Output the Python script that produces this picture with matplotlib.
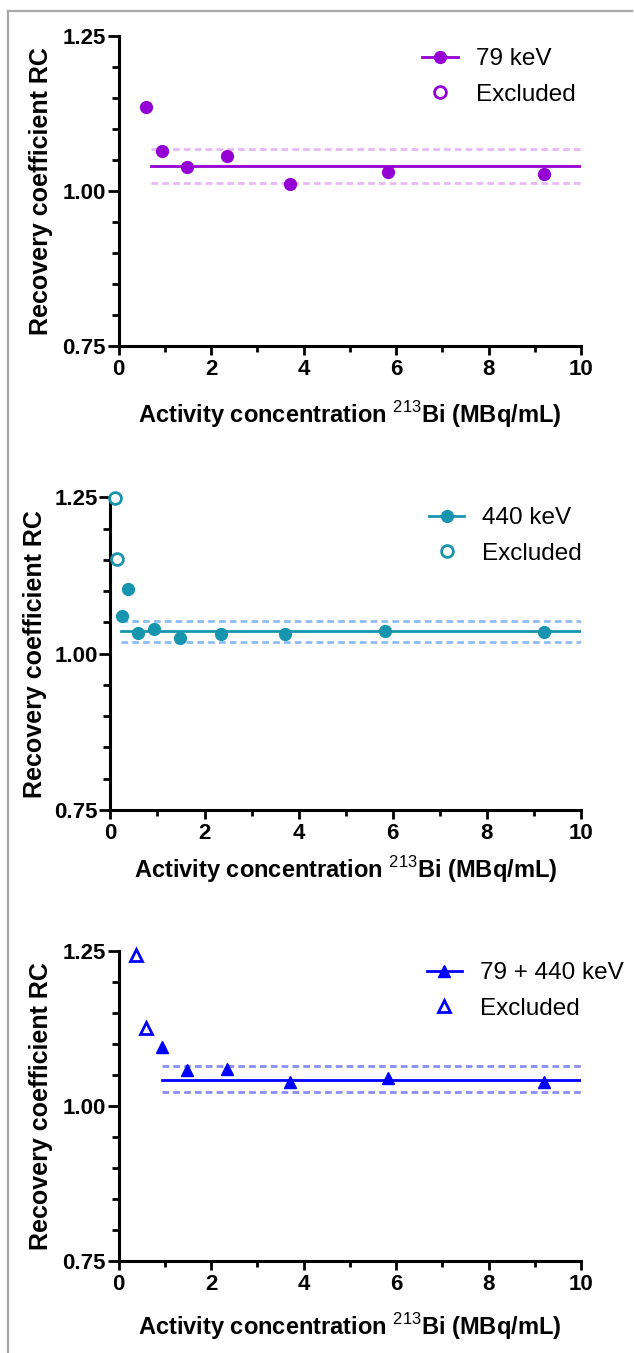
import matplotlib
matplotlib.use('Agg')
import matplotlib.pyplot as plt
from matplotlib.lines import Line2D
from matplotlib.ticker import MultipleLocator

plt.rcParams['font.family'] = ['Liberation Sans', 'DejaVu Sans']
plt.rcParams['mathtext.fontset'] = 'custom'
plt.rcParams['mathtext.rm'] = 'Liberation Sans'
plt.rcParams['mathtext.bf'] = 'Liberation Sans:bold'

# ---- data ----
# panel 1: 79 keV
conc_79 = [0.59, 0.93, 1.48, 2.34, 3.70, 5.83, 9.21]
rc_79 = [1.135, 1.065, 1.038, 1.056, 1.011, 1.031, 1.028]
excl_conc_79 = []
excl_rc_79 = []
fit_79 = (0.70, 1.041, 1.0134, 1.0677)  # start x, mean, lower, upper

# panel 2: 440 keV
conc_440 = [0.24, 0.37, 0.59, 0.93, 1.48, 2.34, 3.70, 5.83, 9.21]
rc_440 = [1.060, 1.104, 1.0325, 1.039, 1.0245, 1.031, 1.031, 1.036, 1.0346]
excl_conc_440 = [0.095, 0.15]
excl_rc_440 = [1.249, 1.151]
fit_440 = (0.22, 1.036, 1.019, 1.053)

# panel 3: 79 + 440 keV
conc_sum = [0.93, 1.48, 2.34, 3.70, 5.83, 9.21]
rc_sum = [1.095, 1.0575, 1.060, 1.039, 1.044, 1.0376]
excl_conc_sum = [0.37, 0.59]
excl_rc_sum = [1.243, 1.125]
fit_sum = (0.93, 1.042, 1.0215, 1.064)

panels = [
    dict(x=conc_79, y=rc_79, ex=excl_conc_79, ey=excl_rc_79, fit=fit_79,
         label='79 keV', marker='o', color='#9400D3', ci='#E6B8F5',
         rect=(118.5, 36, 581, 346), leg=(0.657, 0.960), ylab=-0.142, xlab=-0.172),
    dict(x=conc_440, y=rc_440, ex=excl_conc_440, ey=excl_rc_440, fit=fit_440,
         label='440 keV', marker='o', color='#1795AE', ci='#8DBDF8',
         rect=(110.4, 497.3, 581, 810), leg=(0.677, 0.968), ylab=-0.135, xlab=-0.142),
    dict(x=conc_sum, y=rc_sum, ex=excl_conc_sum, ey=excl_rc_sum, fit=fit_sum,
         label='79 + 440 keV', marker='^', color='#0000FF', ci='#8C8CF5',
         rect=(118.5, 950.7, 581, 1260.7), leg=(0.666, 0.962), ylab=-0.142, xlab=-0.163),
]

W, H = 634, 1353
fig = plt.figure(figsize=(W / 100, H / 100), dpi=100)

# grey frame lines (top and left)
fig.add_artist(Line2D([7.5 / W, 632 / W], [1 - 11 / H, 1 - 11 / H], color='#A8A8A8', lw=1.6))
fig.add_artist(Line2D([7.5 / W, 7.5 / W], [1 - 11 / H, 0], color='#A8A8A8', lw=1.6))

for p in panels:
    L, T, R, B = p['rect']
    ax = fig.add_axes([L / W, 1 - B / H, (R - L) / W, (B - T) / H])
    c = p['color']
    ms = 8.5 if p['marker'] == 'o' else 9

    x0, mean, lo, hi = p['fit']
    ax.plot([x0, 10], [lo, lo], color=p['ci'], lw=2, dashes=[2.4, 1.5])
    ax.plot([x0, 10], [hi, hi], color=p['ci'], lw=2, dashes=[2.4, 1.5])
    ax.plot([x0, 10], [mean, mean], color=c, lw=2)
    ax.plot(p['x'], p['y'], ls='none', marker=p['marker'], ms=ms, color=c, clip_on=False, zorder=5)
    if p['ex']:
        ax.plot(p['ex'], p['ey'], ls='none', marker=p['marker'], ms=ms, mfc='white',
                mec=c, mew=2, clip_on=False, zorder=5)

    ax.set_xlim(0, 10)
    ax.set_ylim(0.75, 1.25)
    ax.xaxis.set_major_locator(MultipleLocator(2))
    ax.xaxis.set_minor_locator(MultipleLocator(1))
    ax.yaxis.set_major_locator(MultipleLocator(0.25))
    ax.yaxis.set_minor_locator(MultipleLocator(0.05))
    ax.yaxis.set_major_formatter(plt.FormatStrFormatter('%.2f'))

    for s in ['top', 'right']:
        ax.spines[s].set_visible(False)
    for s in ['left', 'bottom']:
        ax.spines[s].set_linewidth(2.2)

    ax.tick_params(axis='x', which='major', length=6.5, width=2, pad=3, labelsize=16)
    ax.tick_params(axis='x', which='minor', length=4, width=2)
    ax.tick_params(axis='y', which='major', length=8, width=2, pad=1, labelsize=16)
    ax.tick_params(axis='y', which='minor', length=5, width=2)
    for t in ax.get_xticklabels() + ax.get_yticklabels():
        t.set_fontweight('bold')

    ax.set_ylabel('Recovery coefficient RC', fontsize=18, fontweight='bold')
    ax.yaxis.set_label_coords(p['ylab'], 0.5)
    ax.set_xlabel(r'Activity concentration $^{\mathrm{213}}$Bi (MBq/mL)', fontsize=17,
                  fontweight='bold', va='top')
    ax.xaxis.set_label_coords(0.5, p['xlab'])

    handles = [
        Line2D([], [], color=c, lw=2, marker=p['marker'], ms=ms),
        Line2D([], [], color=c, ls='none', marker=p['marker'], ms=ms, mfc='white', mew=2),
    ]
    ax.legend(handles, [p['label'], 'Excluded'], loc='upper left', bbox_to_anchor=p['leg'],
              frameon=False, fontsize=17.5, borderpad=0, borderaxespad=0,
              handlelength=1.45, handletextpad=0.74, labelspacing=0.55)

fig.savefig('out.png', dpi=100)
